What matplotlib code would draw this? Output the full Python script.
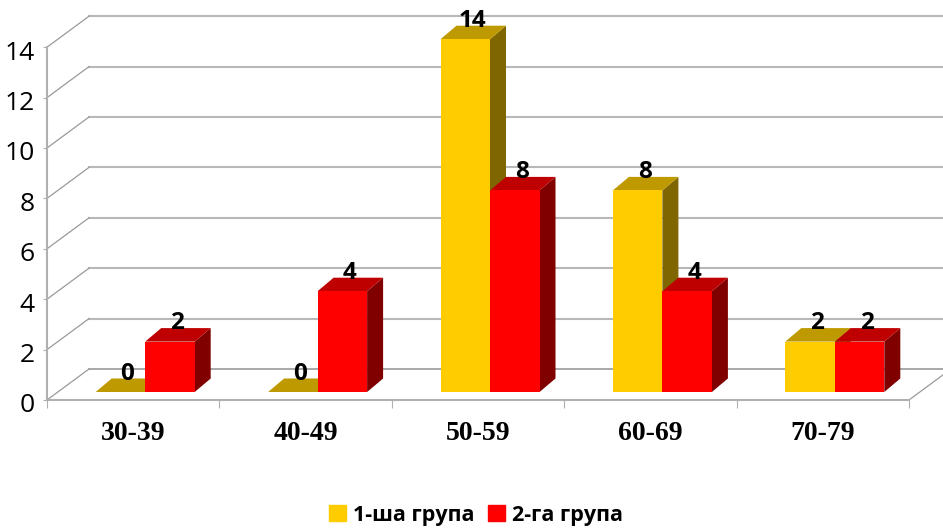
import matplotlib
matplotlib.use("Agg")
import matplotlib.pyplot as plt
from matplotlib.patches import Polygon, Patch
from matplotlib.transforms import ScaledTranslation

categories = ["30-39", "40-49", "50-59", "60-69", "70-79"]
group1 = [0, 0, 14, 8, 2]
group2 = [2, 4, 8, 4, 2]
series_names = ["1-ша група", "2-га група"]
y_ticks = [0, 2, 4, 6, 8, 10, 12, 14]

W, H = 943, 531
fig = plt.figure(figsize=(W / 100, H / 100), dpi=100)
# axes = the front plane of the fake 3d box
left, right, y0, y14 = 47, 909, 400, 47.2
ax = fig.add_axes([left / W, 1 - y0 / H, (right - left) / W, (y0 - y14) / H])
ax.set_xlim(0, len(categories))
ax.set_ylim(0, 14)
ax.patch.set_alpha(0)

# size of one pixel in data units
px = len(categories) / (right - left)
py = 14 / (y0 - y14)

grid_c = "#b8b8b8"
wall_x, wall_y = 42 * px, 31 * py
for v in y_ticks:
    ax.plot([wall_x, 5 + wall_x], [v + wall_y, v + wall_y], color=grid_c if v else "#9a9a9a",
            lw=1.5 if v else 1.2, clip_on=False, zorder=1)
    ax.plot([0, wall_x], [v, v + wall_y], color="#9a9a9a", lw=0.9, clip_on=False, zorder=1)
ax.plot([5, 5 + wall_x], [0, wall_y], color="#9a9a9a", lw=0.9, clip_on=False, zorder=1)

for s in ["top", "right"]:
    ax.spines[s].set_visible(False)
for s in ["left", "bottom"]:
    ax.spines[s].set_color("#b0b0b0")
    ax.spines[s].set_linewidth(1.5)

ax.set_yticks(y_ticks)
ax.tick_params(axis="y", length=3, color="#b0b0b0", pad=6, labelsize=19)
label_shift = ScaledTranslation(0, -3 / 100, fig.dpi_scale_trans)
for t in ax.get_yticklabels():
    t.set_family("Open Sans")
    t.set_transform(t.get_transform() + label_shift)
ax.set_xticks(range(len(categories) + 1))
ax.set_xticklabels([])
ax.tick_params(axis="x", which="major", length=6, color="#b0b0b0")
ax.set_xticks([i + 0.5 for i in range(len(categories))], minor=True)
ax.set_xticklabels(categories, minor=True, family="Liberation Serif", weight="bold", fontsize=20)
ax.tick_params(axis="x", which="minor", length=0, pad=15)

bar_w = 49.5 * px
shift_x, shift_y = 12 * px, 8 * py
depth_x, depth_y = 16 * px, 13.5 * py


def draw_bars(values, offset, front, top, side, z):
    xs = [i + 0.5 + shift_x + offset * bar_w for i in range(len(values))]
    ax.bar(xs, values, bar_w, bottom=shift_y, color=front, clip_on=False, zorder=z + 2)
    for x, v in zip(xs, values):
        x1, x2 = x - bar_w / 2, x + bar_w / 2
        y1, y2 = shift_y, shift_y + v
        ax.add_patch(Polygon([(x1, y2), (x2, y2), (x2 + depth_x, y2 + depth_y), (x1 + depth_x, y2 + depth_y)],
                             facecolor=top, edgecolor="none", clip_on=False, zorder=z + 1))
        ax.add_patch(Polygon([(x2, y1), (x2, y2), (x2 + depth_x, y2 + depth_y), (x2 + depth_x, y1 + depth_y)],
                             facecolor=side, edgecolor="none", clip_on=False, zorder=z))
        ax.text(x + 7 * px, y2 + depth_y - 1 * py, str(v), ha="center", va="baseline", family="Open Sans",
                weight="bold", fontsize=17.5, clip_on=False, zorder=20)


draw_bars(group1, -0.5, "#ffcc00", "#bf9900", "#806600", 3)
draw_bars(group2, 0.5, "#ff0000", "#bf0000", "#800000", 7)

handles = [Patch(color="#ffcc00"), Patch(color="#ff0000")]
fig.legend(handles, series_names, loc="center", bbox_to_anchor=(476 / W, 1 - 515 / H), ncol=2, frameon=False,
           prop={"family": "Open Sans", "weight": "bold", "size": 15.5},
           handlelength=0.8, handleheight=0.8, handletextpad=0.35, columnspacing=0.6)

fig.savefig("out.png", dpi=100)
